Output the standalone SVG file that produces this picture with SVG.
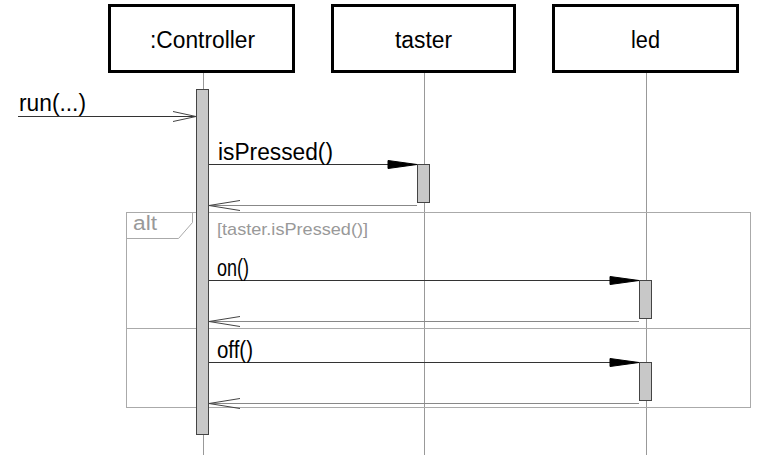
<svg xmlns="http://www.w3.org/2000/svg" width="759" height="455" viewBox="0 0 759 455">
  <style>
    .box { fill: #fff; stroke: #000; stroke-width: 3; }
    .life { stroke: #999; stroke-width: 1; fill: none; }
    .bar { fill: #c8c8c8; stroke: #444; stroke-width: 1; }
    .lbl { font-family: "Liberation Sans", Arial, sans-serif; font-size: 23px; fill: #000; }
    .call { stroke: #333; stroke-width: 1; fill: none; }
    .ret { stroke: #888; stroke-width: 1; fill: none; }
    .head { fill: #000; stroke: #000; stroke-width: 1; stroke-linejoin: miter; }
    .open { stroke: #444; stroke-width: 1; fill: none; }
    .frame { stroke: #aaa; stroke-width: 1; fill: none; }
    .grey { font-family: "Liberation Sans", Arial, sans-serif; fill: #999; }
  </style>
  <rect width="759" height="455" fill="#fff"/>

  <!-- lifelines -->
  <g id="lifelines">
    <line class="life" x1="203.5" y1="73" x2="203.5" y2="455"/>
    <line class="life" x1="424.5" y1="73" x2="424.5" y2="455"/>
    <line class="life" x1="646.5" y1="73" x2="646.5" y2="455"/>
  </g>

  <!-- combined fragment: alt -->
  <g id="alt-fragment">
    <rect class="frame" x="126.5" y="212.5" width="624" height="195"/>
    <line class="frame" x1="126.5" y1="328.5" x2="750.5" y2="328.5"/>
    <polyline class="frame" points="192.5,212.5 192.5,222.5 178.5,238.5 126.5,238.5"/>
    <text class="grey" x="133" y="230" font-size="20" fill="#8a8a8a" textLength="24" lengthAdjust="spacingAndGlyphs">alt</text>
    <text class="grey" x="217" y="235" font-size="17" textLength="151" lengthAdjust="spacingAndGlyphs">[taster.isPressed()]</text>
  </g>

  <!-- participants -->
  <g id="controller">
    <rect class="box" x="109.5" y="5.5" width="184" height="66"/>
    <text class="lbl" x="150" y="48" textLength="105" lengthAdjust="spacingAndGlyphs">:Controller</text>
    <rect class="bar" x="196.5" y="89.5" width="12" height="345"/>
  </g>
  <g id="taster">
    <rect class="box" x="332.5" y="5.5" width="182" height="66"/>
    <text class="lbl" x="395" y="48" textLength="57" lengthAdjust="spacingAndGlyphs">taster</text>
    <rect class="bar" x="417.5" y="164.5" width="12" height="38"/>
  </g>
  <g id="led">
    <rect class="box" x="553.5" y="5.5" width="184" height="66"/>
    <text class="lbl" x="631" y="48" textLength="29" lengthAdjust="spacingAndGlyphs">led</text>
    <rect class="bar" x="639.5" y="280.5" width="12" height="38"/>
    <rect class="bar" x="639.5" y="362.5" width="12" height="38"/>
  </g>

  <!-- messages -->
  <g id="connectors">
    <!-- run(...) -->
    <line class="call" x1="18" y1="116.5" x2="196" y2="116.5" stroke="#000"/>
    <polyline class="open" points="173,111.5 196,116.5 173,121.5"/>
    <text class="lbl" x="19" y="111" textLength="67" lengthAdjust="spacingAndGlyphs">run(...)</text>

    <!-- isPressed() -->
    <line class="call" x1="209" y1="164.5" x2="417" y2="164.5"/>
    <polygon class="head" points="388,160.5 417,164.5 388,168.5"/>
    <text class="lbl" x="218" y="160" textLength="115" lengthAdjust="spacingAndGlyphs">isPressed()</text>
    <line class="ret" x1="417" y1="205.5" x2="209" y2="205.5"/>
    <polyline class="open" points="240,200.5 209,205.5 240,210.5"/>

    <!-- on() -->
    <line class="call" x1="209" y1="280.5" x2="639" y2="280.5"/>
    <polygon class="head" points="610,276.5 639,280.5 610,284.5"/>
    <text class="lbl" x="217" y="276" textLength="32" lengthAdjust="spacingAndGlyphs">on()</text>
    <line class="ret" x1="639" y1="321.5" x2="209" y2="321.5"/>
    <polyline class="open" points="240,316.5 209,321.5 240,326.5"/>

    <!-- off() -->
    <line class="call" x1="209" y1="362.5" x2="639" y2="362.5"/>
    <polygon class="head" points="610,358.5 639,362.5 610,366.5"/>
    <text class="lbl" x="217" y="358" textLength="36" lengthAdjust="spacingAndGlyphs">off()</text>
    <line class="ret" x1="639" y1="403.5" x2="209" y2="403.5"/>
    <polyline class="open" points="240,398.5 209,403.5 240,408.5"/>
  </g>
</svg>
